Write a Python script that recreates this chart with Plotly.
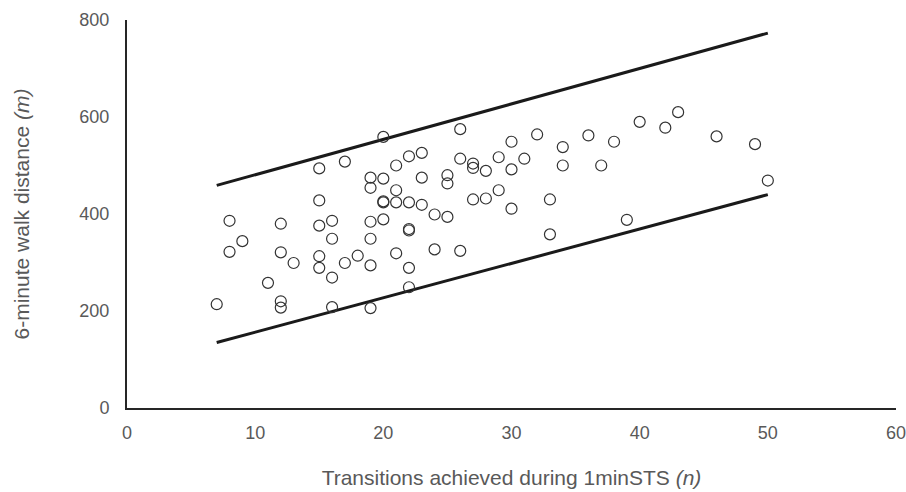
import plotly.graph_objects as go

transitions = [7, 8, 8, 9, 11, 12, 12, 12, 12, 13,
               15, 15, 15, 15, 15, 16, 16, 16, 16, 17, 17, 18,
               19, 19, 19, 19, 19, 19,
               20, 20, 20, 20, 20,
               21, 21, 21, 21,
               22, 22, 22, 22, 22, 22,
               23, 23, 23, 24, 24, 25, 25, 25,
               26, 26, 26, 27, 27, 27, 28, 28, 29, 29,
               30, 30, 30, 31, 32, 33, 33, 34, 34,
               36, 37, 38, 39, 40, 42, 43, 46, 49, 50]
walk_distance = [214, 386, 322, 344, 258, 380, 321, 220, 207, 299,
                 494, 428, 376, 313, 289, 386, 349, 269, 208, 508, 299, 314,
                 475, 454, 384, 349, 294, 206,
                 559, 473, 426, 424, 389,
                 500, 449, 424, 319,
                 519, 424, 369, 366, 289, 249,
                 526, 475, 419, 399, 327, 480, 463, 394,
                 575, 514, 324, 504, 495, 430, 489, 432, 517, 449,
                 549, 492, 411, 514, 564, 430, 358, 538, 500,
                 562, 500, 549, 388, 590, 578, 610, 560, 544, 469]

upper_x = [7, 50]
upper_y = [459, 773]
lower_x = [7, 50]
lower_y = [135, 440]

x_ticks = [0, 10, 20, 30, 40, 50, 60]
y_ticks = [0, 200, 400, 600, 800]

fig = go.Figure()
fig.add_trace(go.Scatter(x=upper_x, y=upper_y, mode="lines",
                         line=dict(color="#1a1a1a", width=3), hoverinfo="skip"))
fig.add_trace(go.Scatter(x=lower_x, y=lower_y, mode="lines",
                         line=dict(color="#1a1a1a", width=3), hoverinfo="skip"))
fig.add_trace(go.Scatter(x=transitions, y=walk_distance, mode="markers",
                         marker=dict(symbol="circle-open", size=11,
                                     color="#333333", line=dict(width=1.2))))

font_gray = "#595959"
fig.update_layout(
    width=906, height=492,
    margin=dict(l=127, r=10, t=20, b=84),
    plot_bgcolor="white", paper_bgcolor="white",
    showlegend=False,
    font=dict(family="Liberation Sans, Arial, sans-serif", color=font_gray, size=18),
    xaxis=dict(range=[0, 60], tickvals=x_ticks,
               showgrid=False, zeroline=False, showline=True,
               linecolor="#262626", linewidth=2, ticks="",
               ticklabelstandoff=7, automargin=False,
               ticklabeloverflow="allow",
               tickfont=dict(size=18, color=font_gray),
               title=dict(text="Transitions achieved during 1minSTS <i>(n)</i>",
                          font=dict(size=21, color=font_gray), standoff=29)),
    yaxis=dict(range=[0, 800], tickvals=y_ticks,
               showgrid=False, zeroline=False, showline=True,
               linecolor="#262626", linewidth=2, ticks="",
               ticklabelstandoff=12, automargin=False,
               ticklabeloverflow="allow",
               tickfont=dict(size=18, color=font_gray),
               title=dict(text="6-minute walk distance <i>(m)</i>",
                          font=dict(size=21, color=font_gray), standoff=44)),
)

fig.write_html("out.html",
               config={"displayModeBar": False},
               post_script="document.body.style.margin='0';document.body.style.overflow='hidden';")
